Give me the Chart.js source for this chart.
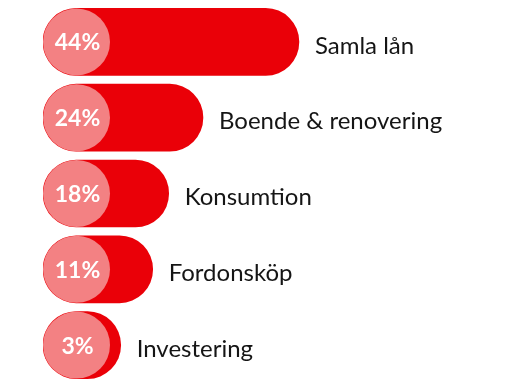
<!DOCTYPE html>
<html>
<head>
<meta charset="utf-8">
<script src="https://cdn.jsdelivr.net/npm/chart.js@4/dist/chart.umd.min.js"></script>
<style>
  html, body { margin: 0; padding: 0; background: #fff; }
  #wrap { width: 514px; height: 386px; position: relative; }
</style>
</head>
<body>
<div id="wrap"><canvas id="chart"></canvas></div>
<script>
// categories and the share shown in each circle
const categories = ['Samla lån', 'Boende & renovering', 'Konsumtion', 'Fordonsköp', 'Investering']
const shares = [44, 24, 18, 11, 3]
// bar extent as drawn in the picture (0-100 axis)
const barLengths = [56, 35, 27.5, 24, 17]

const RED = '#ea0008'
const PINK = '#f38183'

const badgePlugin = {
  id: 'badges',
  afterDatasetsDraw(chart) {
    const { ctx } = chart
    const meta = chart.getDatasetMeta(0)
    meta.data.forEach((bar, i) => {
      const r = bar.height / 2
      const left = Math.min(bar.base, bar.x)
      const right = Math.max(bar.base, bar.x)
      ctx.save()
      ctx.beginPath()
      ctx.arc(left + r, bar.y, r, 0, Math.PI * 2)
      ctx.fillStyle = PINK
      ctx.fill()

      ctx.fillStyle = '#fff'
      ctx.font = 'bold 23px Lato'
      ctx.textAlign = 'center'
      ctx.textBaseline = 'middle'
      ctx.fillText(shares[i] + '%', left + r + 1, bar.y + 1)

      ctx.fillStyle = '#151515'
      ctx.font = '24px Lato'
      ctx.textAlign = 'left'
      ctx.fillText(categories[i], right + 16, bar.y + 4)
      ctx.restore()
    })
  },
}

new Chart(document.getElementById('chart'), {
  type: 'bar',
  data: {
    labels: categories,
    datasets: [
      {
        data: barLengths,
        backgroundColor: RED,
        borderRadius: 40,
        borderSkipped: false,
        barThickness: 67,
      },
    ],
  },
  options: {
    indexAxis: 'y',
    responsive: true,
    maintainAspectRatio: false,
    animation: false,
    layout: {
      padding: { left: 43, right: 14, top: 4, bottom: 3 },
    },
    plugins: {
      legend: { display: false },
      tooltip: { enabled: false },
    },
    scales: {
      x: { display: false, min: 0, max: 100 },
      y: { display: false },
    },
  },
  plugins: [badgePlugin],
})
</script>
</body>
</html>
